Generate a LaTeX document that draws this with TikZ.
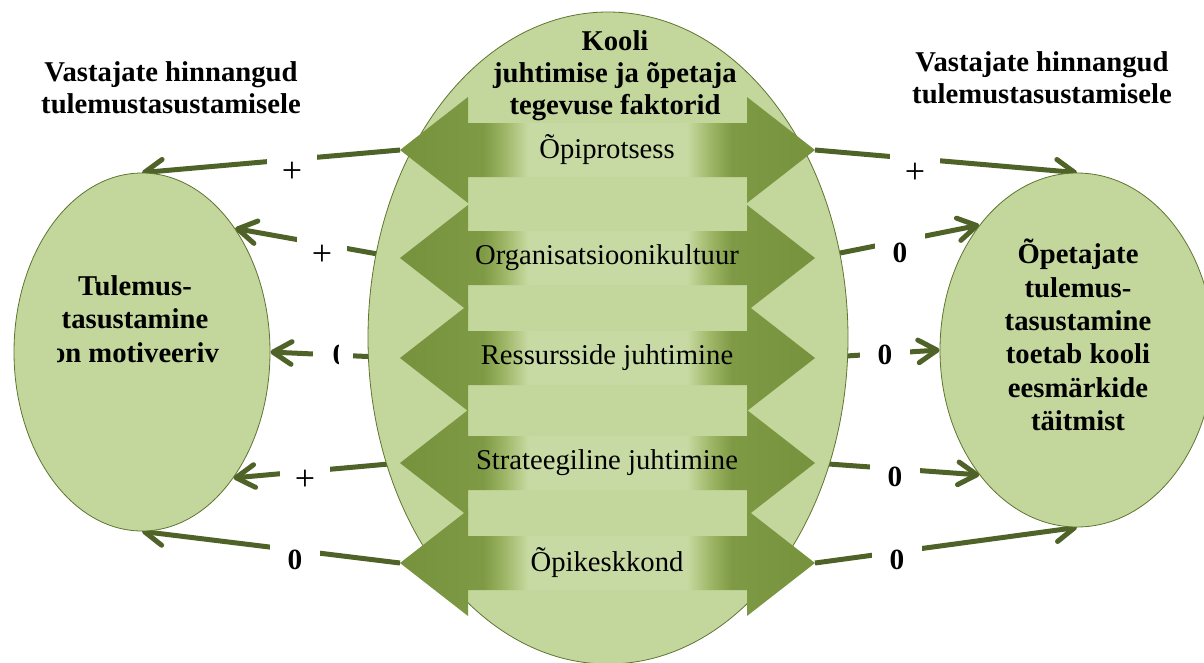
\documentclass[tikz,border=0pt]{standalone}
\usepackage{fontspec}
\setmainfont{Liberation Serif}
\usetikzlibrary{arrows.meta,shapes.geometric,backgrounds}

\definecolor{ellfill}{HTML}{C3D69B}
\definecolor{ellline}{HTML}{5F7530}
\definecolor{adark}{HTML}{76923C}
\definecolor{ahead}{HTML}{7E9A45}
\definecolor{amid}{HTML}{9DB565}
\definecolor{alight}{HTML}{C8DAA3}
\definecolor{connol}{HTML}{4F6228}

\pgfdeclarehorizontalshading{factorfill}{100bp}{color(0bp)=(adark); color(25bp)=(adark);
  color(35bp)=(ahead); color(37.5bp)=(amid); color(40.5bp)=(alight); color(59.5bp)=(alight);
  color(62.5bp)=(amid); color(65bp)=(ahead); color(75bp)=(adark); color(100bp)=(adark)}

\begin{document}
\begin{tikzpicture}[
  x=0.75pt, y=-0.75pt,
  ell/.style={ellipse, draw=ellline, line width=0.6pt, fill=ellfill, inner sep=0pt},
  heading/.style={font=\fontsize{21.5}{24}\selectfont\bfseries, align=center},
  inside/.style={font=\fontsize{21.5}{25}\selectfont\bfseries, align=center},
  factor/.style={font=\fontsize{21.5}{25}\selectfont, inner sep=0pt},
  conn/.style={draw=connol, line width=3.75pt, -{Straight Barb[length=14pt,width=17pt,round]}},
  lbl/.style={fill=white, minimum width=38pt, minimum height=36pt, inner sep=0pt, font=\fontsize{22}{24}\selectfont},
  plus/.style={lbl, font=\fontsize{27}{28}\selectfont}
]
\useasboundingbox (0,0) rectangle (1204,662);

% the three ellipses
\node[ell, minimum width=192pt, minimum height=268.5pt] (tul) at (142,352) {};
\node[ell, minimum width=205.5pt, minimum height=265.5pt] (opt) at (1077,350) {};
\node[ell, minimum width=360pt, minimum height=489pt] (kool) at (608,338) {};

% factor arrows
\foreach \y/\name [count=\i] in {150/Õpiprotsess,258/Organisatsioonikultuur,358/Ressursside juhtimine,463/Strateegiline juhtimine,563/Õpikeskkond}{
  \shade[shading=factorfill] (400,\y) -- (468,\y-53) -- (468,\y-27) -- (747,\y-27) -- (747,\y-53)
    -- (815,\y) -- (747,\y+53) -- (747,\y+27) -- (468,\y+27) -- (468,\y+53) -- cycle;
  \coordinate (l\i) at (400,\y);
  \coordinate (r\i) at (815,\y);
  \node[factor] (f\i) at (607,\y) {\name};
}

% texts
\node[heading] (kooltxt) at (615,76) {Kooli\\juhtimise ja õpetaja\\tegevuse faktorid};
\node[heading] (lefthead) at (171,88) {Vastajate hinnangud\\tulemustasustamisele};
\node[heading] (righthead) at (1042,78) {Vastajate hinnangud\\tulemustasustamisele};
\node[inside] (opttxt) at (1078,335) {Õpetajate\\tulemus-\\tasustamine\\toetab kooli\\eesmärkide\\täitmist};
\begin{scope}
  \clip (57,240) rectangle (262,400);
  \node[inside] (tultxt) at (135,319) {Tulemus-\\tasustamine\\on motiveeriv};
\end{scope}

% connectors
\begin{scope}[on background layer]
  \draw[conn] (l1) -- (tul.north);
  \draw[conn] (l2) -- (tul.53);
  \draw[conn] (l3) -- (tul.east);
  \draw[conn] (l4) -- (tul.-54);
  \draw[conn] (l5) -- (tul.south);
  \draw[conn] (r1) -- (opt.north);
  \draw[conn] (r2) -- (opt.128);
  \draw[conn] (r3) -- (opt.west);
  \draw[conn] (r4) -- (opt.-128);
  \draw[conn] (r5) -- (opt.south);

  \node[plus] (a1) at (292,172) {+};
  \node[plus] (a2) at (322,255) {+};
  \node[lbl, minimum width=30pt] (a3) at (333,355) {};
  \node[plus] (a4) at (305,480) {+};
  \node[lbl] (a5) at (295,560) {\bfseries 0};
  \node[plus] (b1) at (915,173) {+};
  \node[lbl] (b2) at (900,253) {\bfseries 0};
  \node[lbl] (b3) at (885,355) {\bfseries 0};
  \node[lbl] (b4) at (895,477) {\bfseries 0};
  \node[lbl] (b5) at (897,560) {\bfseries 0};
  \begin{scope}
    \clip (320,320) rectangle (338,390);
    \node[lbl, fill=none] (a3txt) at (340,355) {\bfseries 0};
  \end{scope}
\end{scope}
\end{tikzpicture}
\end{document}
